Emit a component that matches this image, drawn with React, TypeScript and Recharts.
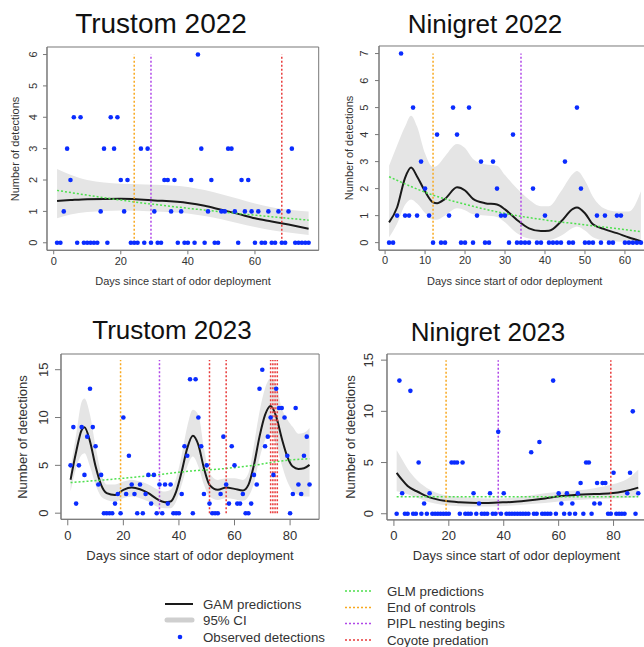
import React from 'react';
import { ComposedChart, XAxis, YAxis, Area, Line, Scatter, ReferenceLine, ReferenceArea } from 'recharts';

const FONT = '"Liberation Sans", Arial, Helvetica, sans-serif';
const INK = '#333';
const AXIS = '#777';
const BLUE = '#0a2cff';
const GAM_COL = '#1a1a1a';
const CI_COL = '#e5e5e5';
const GLM_COL = '#4ee04e';
const CONTROL_COL = '#f8a81e';
const NEST_COL = '#b048e8';
const COYOTE_COL = '#e83a3a';

// Trustom 2022 (daily detections, day 1..76)
const t22Counts = [
  0, 0, 1, 3, 2, 4, 0, 4, 0, 0, 0, 0, 0, 1, 3, 0, 4, 3, 4, 2,
  1, 2, 0, 0, 0, 3, 0, 3, 0, 1, 0, 0, 2, 2, 1, 2, 0, 1, 0, 0,
  2, 0, 6, 3, 0, 1, 2, 0, 0, 1, 1, 3, 3, 1, 0, 2, 1, 2, 1, 0,
  1, 0, 0, 1, 0, 0, 1, 0, 0, 1, 3, 0, 0, 0, 0, 0,
];
const t22GamDays = [1, 5, 10, 20, 30, 40, 45, 50, 55, 60, 65, 70, 76];
const t22Gam = [1.33, 1.36, 1.39, 1.4, 1.35, 1.27, 1.18, 1.05, 0.92, 0.78, 0.68, 0.58, 0.45];
const t22CiLo = [0.78, 0.9, 0.98, 1.03, 1.0, 0.93, 0.85, 0.75, 0.62, 0.5, 0.4, 0.33, 0.25];
const t22CiHi = [2.35, 2.17, 2.0, 1.88, 1.85, 1.78, 1.68, 1.55, 1.4, 1.25, 1.13, 1.05, 1.0];
const t22GlmDays = [1, 20, 40, 60, 76];
const t22Glm = [1.67, 1.36, 1.1, 0.88, 0.72];

// Ninigret 2022 (day 1..64)
const n22Counts = [
  0, 0, 1, 7, 1, 1, 5, 1, 3, 2, 1, 0, 4, 0, 0, 1, 5, 4, 0, 0,
  5, 0, 1, 3, 0, 0, 3, 2, 1, 1, 0, 4, 0, 0, 0, 0, 2, 0, 0, 1,
  0, 0, 0, 0, 3, 0, 0, 5, 2, 0, 0, 0, 1, 0, 1, 0, 0, 1, 1, 0,
  0, 0, 0, 0,
];
const n22GamDays = [1, 3, 5, 6.5, 8, 10, 12, 13, 15, 18, 20, 22, 25, 28, 30, 33, 36, 39, 41, 44, 47, 48, 50, 52, 55, 58, 61, 64];
const n22Gam = [0.75, 1.3, 2.4, 2.78, 2.45, 1.9, 1.49, 1.46, 1.62, 2.05, 1.93, 1.62, 1.46, 1.41, 1.23, 0.84, 0.53, 0.43, 0.44, 0.78, 1.25, 1.3, 1.09, 0.68, 0.49, 0.35, 0.19, 0.05];
const n22CiLo = [0.2, 0.7, 1.4, 1.6, 1.45, 1.1, 0.85, 0.85, 1.0, 1.27, 1.2, 1.05, 1.0, 0.95, 0.75, 0.35, 0.15, 0.1, 0.1, 0.25, 0.55, 0.6, 0.45, 0.2, 0.08, 0.04, 0.02, 0];
const n22CiHi = [2.85, 3.6, 4.3, 4.7, 4.3, 3.3, 2.8, 2.85, 3.2, 3.65, 3.5, 3.1, 2.9, 2.85, 2.5, 2.0, 1.6, 1.35, 1.35, 1.9, 2.55, 2.65, 2.3, 1.7, 1.25, 1.15, 1.15, 1.9];
const n22GlmDays = [1, 12, 20, 30, 40, 50, 64];
const n22Glm = [2.44, 1.76, 1.42, 1.08, 0.84, 0.66, 0.41];

// Trustom 2023 (day 1..87)
const t23Counts = [
  5, 9, 1, 5, 9, 4, 8, 13, 9, 7, 3, 4, 0, 0, 0, 0, 1, 2, 0, 10,
  2, 6, 3, 2, 0, 3, 0, 2, 4, 1, 4, 0, 3, 0, 3, 1, 3, 0, 0, 0,
  2, 7, 6, 14, 0, 14, 10, 7, 2, 5, 1, 0, 0, 0, 2, 8, 3, 1, 7, 5,
  1, 1, 2, 0, 0, 1, 4, 3, 13, 15, 7, 8, 10, 4, 13, 11, 11, 10, 6, 0,
  2, 11, 3, 2, 6, 8, 3,
];
const t23GamDays = [1, 3, 5, 6, 8, 10, 12, 14, 17, 20, 23, 26, 29, 32, 35, 37, 39, 41, 43, 45, 47, 49, 51, 54, 57, 60, 63, 65, 67, 69, 71, 73, 75, 77, 79, 81, 83, 85, 87];
const t23Gam = [3.5, 6.4, 8.7, 8.98, 7.5, 4.9, 2.96, 2.1, 1.9, 2.44, 2.68, 2.5, 2.09, 1.5, 1.15, 1.22, 2.26, 4.35, 6.8, 8.1, 7.14, 4.7, 2.96, 2.44, 2.68, 2.54, 2.37, 2.96, 5.05, 8.0, 10.27, 11.2, 10.1, 7.83, 5.92, 4.87, 4.63, 4.7, 5.05];
const t23CiLo = [2.26, 4.7, 6.1, 6.26, 4.87, 2.96, 1.74, 1.39, 1.22, 1.57, 1.74, 1.57, 1.22, 0.7, 0.52, 0.52, 1.22, 2.96, 4.87, 5.92, 4.87, 2.96, 1.74, 1.39, 1.57, 1.46, 1.29, 1.74, 3.13, 5.74, 7.66, 8.35, 7.14, 5.05, 3.3, 2.26, 1.9, 1.74, 1.74];
const t23CiHi = [4.7, 8.2, 11.66, 12.0, 10.3, 7.0, 4.2, 3.0, 3.0, 3.3, 3.5, 3.3, 3.0, 2.54, 2.26, 2.44, 3.65, 6.1, 9.05, 10.8, 10.27, 6.8, 4.2, 3.48, 3.65, 3.65, 3.48, 4.18, 7.14, 10.6, 13.05, 14.1, 13.4, 10.96, 9.8, 9.0, 8.3, 8.4, 8.9];
const t23GlmDays = [1, 18, 32, 44, 54, 66, 78, 87];
const t23Glm = [3.2, 3.6, 4.0, 4.4, 4.6, 4.97, 5.5, 5.7];

// Ninigret 2023 (day 1..89)
const n23Counts = [
  0, 13, 2, 0, 0, 12, 0, 0, 5, 0, 1, 0, 2, 0, 0, 0, 0, 0, 0, 0,
  5, 5, 5, 0, 5, 0, 0, 0, 2, 0, 1, 0, 0, 0, 2, 0, 0, 8, 0, 2,
  0, 0, 0, 0, 0, 0, 0, 0, 0, 6, 0, 0, 7, 0, 0, 0, 0, 13, 0, 2,
  1, 0, 2, 0, 1, 0, 2, 3, 0, 5, 5, 0, 1, 3, 1, 3, 3, 0, 0, 4,
  0, 0, 0, 0, 2, 4, 10, 0, 2,
];
const n23GamDays = [1, 3, 5, 9, 12, 15, 19, 24, 28, 33, 38, 43, 48, 55, 60, 67, 73, 79, 84, 89];
const n23Gam = [4.0, 3.3, 2.7, 2.1, 1.7, 1.45, 1.24, 1.12, 1.07, 1.05, 1.1, 1.15, 1.27, 1.5, 1.7, 1.85, 1.92, 2.0, 2.2, 2.55];
const n23CiDays = [1, 3, 5, 8, 11, 15, 20, 28, 35, 42, 50, 55, 62, 67, 73, 80, 85, 89];
const n23CiLo = [2.2, 2.1, 1.9, 1.6, 1.3, 1.0, 0.8, 0.7, 0.7, 0.78, 0.95, 1.05, 1.25, 1.35, 1.45, 1.5, 1.55, 1.6];
const n23CiHi = [6.2, 5.3, 4.4, 3.4, 2.7, 2.1, 1.75, 1.57, 1.5, 1.55, 1.8, 2.0, 2.2, 2.3, 2.5, 2.9, 3.4, 4.3];
const n23GlmDays = [1, 89];
const n23Glm = [1.65, 1.65];

type PanelSpec = {
  box: [number, number, number, number];
  xDomain: [number, number];
  yDomain: [number, number];
  xTicks: number[];
  yTicks: number[];
  fs: number;
  tickLen: number;
  xGap: number;
  yGap: number;
  counts: number[];
  gamDays: number[];
  gam: number[];
  ciDays: number[];
  ciLo: number[];
  ciHi: number[];
  glmDays: number[];
  glm: number[];
  controls: number;
  nesting: number;
  coyote: number[];
  lineTop: number;
};

const pts = (days: number[], vals: number[]) => days.map((x, i) => ({ x, y: vals[i] }));

const dot = (props: any) => <circle cx={props.cx} cy={props.cy} r={2.3} fill={BLUE} />;

function Panel(p: PanelSpec) {
  const YW = 50, MT = 2, XH = 34, MR = 1;
  const [l, t, r, b] = p.box;
  const w = r - l + YW + MR;
  const h = b - t + MT + XH;
  const obs = p.counts.map((y, i) => ({ x: i + 1, y }));
  const band = p.ciDays.map((x, i) => ({ x, band: [p.ciLo[i], p.ciHi[i]] }));
  const vlines = [
    { x: p.controls, c: CONTROL_COL },
    { x: p.nesting, c: NEST_COL },
    ...p.coyote.map((x) => ({ x, c: COYOTE_COL })),
  ];
  const yTick = (props: any) => {
    const bx = props.x - p.yGap;
    return (
      <text x={bx} y={props.y} transform={`rotate(-90 ${bx} ${props.y})`} textAnchor="middle"
        fontSize={p.fs} fontFamily={FONT} fill={INK}>{props.payload.value}</text>
    );
  };
  return (
    <div style={{ position: 'absolute', left: l - YW, top: t - MT }}>
      <ComposedChart width={w} height={h} margin={{ top: MT, right: MR, bottom: 0, left: 0 }}>
        <XAxis type="number" dataKey="x" domain={p.xDomain} allowDataOverflow ticks={p.xTicks} interval={0}
          height={XH} tickSize={p.tickLen} tickMargin={p.xGap} stroke={AXIS}
          tick={{ fontSize: p.fs, fill: INK, fontFamily: FONT }} />
        <YAxis type="number" domain={p.yDomain} allowDataOverflow ticks={p.yTicks} interval={0}
          width={YW} tickSize={p.tickLen} tickMargin={0} stroke={AXIS} tick={yTick} />
        <ReferenceArea x1={p.xDomain[0]} x2={p.xDomain[1]} y1={p.yDomain[0]} y2={p.yDomain[1]}
          fill="none" fillOpacity={0} stroke={AXIS} strokeWidth={1} ifOverflow="visible" />
        <Area data={band} dataKey="band" type="monotone" stroke="none" fill={CI_COL} fillOpacity={1}
          isAnimationActive={false} />
        <Line data={pts(p.gamDays, p.gam)} dataKey="y" type="monotone" stroke={GAM_COL} strokeWidth={2}
          dot={false} isAnimationActive={false} />
        <Line data={pts(p.glmDays, p.glm)} dataKey="y" type="monotone" stroke={GLM_COL} strokeWidth={1.5}
          strokeDasharray="2 2" dot={false} isAnimationActive={false} />
        {vlines.map((v, i) => (
          <ReferenceLine key={i} segment={[{ x: v.x, y: 0 }, { x: v.x, y: p.lineTop }]}
            stroke={v.c} strokeWidth={1.5} strokeDasharray="2 2" />
        ))}
        <Scatter data={obs} dataKey="y" shape={dot} isAnimationActive={false} />
      </ComposedChart>
    </div>
  );
}

const panels: PanelSpec[] = [
  {
    box: [47.3, 47.2, 319, 250.5], xDomain: [-2, 79], yDomain: [-0.24, 6.24],
    xTicks: [0, 20, 40, 60], yTicks: [0, 1, 2, 3, 4, 5, 6], fs: 11, tickLen: 4, xGap: 2.5, yGap: 6,
    counts: t22Counts, gamDays: t22GamDays, gam: t22Gam, ciDays: t22GamDays, ciLo: t22CiLo, ciHi: t22CiHi,
    glmDays: t22GlmDays, glm: t22Glm, controls: 24, nesting: 29, coyote: [68], lineTop: 6,
  },
  {
    box: [378.7, 46.1, 650.7, 250.3], xDomain: [-1.52, 66.52], yDomain: [-0.28, 7.28],
    xTicks: [0, 10, 20, 30, 40, 50, 60], yTicks: [0, 1, 2, 3, 4, 5, 6, 7], fs: 11, tickLen: 4, xGap: 2.5, yGap: 7,
    counts: n22Counts, gamDays: n22GamDays, gam: n22Gam, ciDays: n22GamDays, ciLo: n22CiLo, ciHi: n22CiHi,
    glmDays: n22GlmDays, glm: n22Glm, controls: 12, nesting: 34, coyote: [], lineTop: 7,
  },
  {
    box: [60.9, 354.1, 319, 519.4], xDomain: [-2.44, 90.44], yDomain: [-0.64, 16.64],
    xTicks: [0, 20, 40, 60, 80], yTicks: [0, 5, 10, 15], fs: 13, tickLen: 6, xGap: 5, yGap: 7.3,
    counts: t23Counts, gamDays: t23GamDays, gam: t23Gam, ciDays: t23GamDays, ciLo: t23CiLo, ciHi: t23CiHi,
    glmDays: t23GlmDays, glm: t23Glm, controls: 19, nesting: 33, coyote: [51, 57, 73, 73.8, 74.6, 75.4], lineTop: 16,
  },
  {
    box: [387.4, 354.2, 645.6, 520.1], xDomain: [-2.52, 91.52], yDomain: [-0.6, 15.6],
    xTicks: [0, 20, 40, 60, 80], yTicks: [0, 5, 10, 15], fs: 13, tickLen: 6, xGap: 5, yGap: 8,
    counts: n23Counts, gamDays: n23GamDays, gam: n23Gam, ciDays: n23CiDays, ciLo: n23CiLo, ciHi: n23CiHi,
    glmDays: n23GlmDays, glm: n23Glm, controls: 19, nesting: 38, coyote: [79], lineTop: 15,
  },
];

const titles = [
  { text: 'Trustom 2022', x: 161, y: 33, size: 28 },
  { text: 'Ninigret 2022', x: 485, y: 33, size: 26 },
  { text: 'Trustom 2023', x: 172, y: 339, size: 26 },
  { text: 'Ninigret 2023', x: 488, y: 341, size: 26 },
];

const xTitles = [
  { x: 183, y: 284.5, fs: 11 },
  { x: 514.7, y: 284.5, fs: 11 },
  { x: 190, y: 560.3, fs: 13 },
  { x: 516.5, y: 560.3, fs: 13 },
];

const yTitles = [
  { x: 15, y: 149, fs: 11 },
  { x: 348.7, y: 148, fs: 11 },
  { x: 22.7, y: 437, fs: 13 },
  { x: 350, y: 437, fs: 13 },
];

const legendRight = [
  { label: 'GLM predictions', c: GLM_COL, y: 591 },
  { label: 'End of controls', c: CONTROL_COL, y: 607.5 },
  { label: 'PIPL nesting begins', c: NEST_COL, y: 623.5 },
  { label: 'Coyote predation', c: COYOTE_COL, y: 640 },
];

export default function App() {
  const LF = 13.3;
  return (
    <div style={{ position: 'absolute', left: 0, top: 0, width: 644, height: 647, overflow: 'hidden', background: '#fff' }}>
      {panels.map((p, i) => <Panel key={i} {...p} />)}
      <svg width={644} height={647} style={{ position: 'absolute', left: 0, top: 0, pointerEvents: 'none' }}
        fontFamily={FONT} fill={INK}>
        {titles.map((t) => (
          <text key={t.text} x={t.x} y={t.y} fontSize={t.size} textAnchor="middle" fill="#111">{t.text}</text>
        ))}
        {xTitles.map((t, i) => (
          <text key={i} x={t.x} y={t.y} fontSize={t.fs} textAnchor="middle">Days since start of odor deployment</text>
        ))}
        {yTitles.map((t, i) => (
          <text key={i} x={t.x} y={t.y} fontSize={t.fs} textAnchor="middle" dominantBaseline="central"
            transform={`rotate(-90 ${t.x} ${t.y})`}>Number of detections</text>
        ))}
        <line x1={165} x2={193} y1={604} y2={604} stroke={GAM_COL} strokeWidth={2} />
        <text x={203} y={608.7} fontSize={LF}>GAM predictions</text>
        <line x1={167} x2={192} y1={620} y2={620} stroke="#cfcfcf" strokeWidth={5} strokeLinecap="round" />
        <text x={203} y={625} fontSize={LF}>95% CI</text>
        <circle cx={180} cy={637} r={2.3} fill={BLUE} />
        <text x={203} y={641.7} fontSize={LF}>Observed detections</text>
        {legendRight.map((e) => (
          <g key={e.label}>
            <line x1={345} x2={373} y1={e.y} y2={e.y} stroke={e.c} strokeWidth={1.5} strokeDasharray="2 2" />
            <text x={387} y={e.y + 4.7} fontSize={LF}>{e.label}</text>
          </g>
        ))}
      </svg>
    </div>
  );
}
